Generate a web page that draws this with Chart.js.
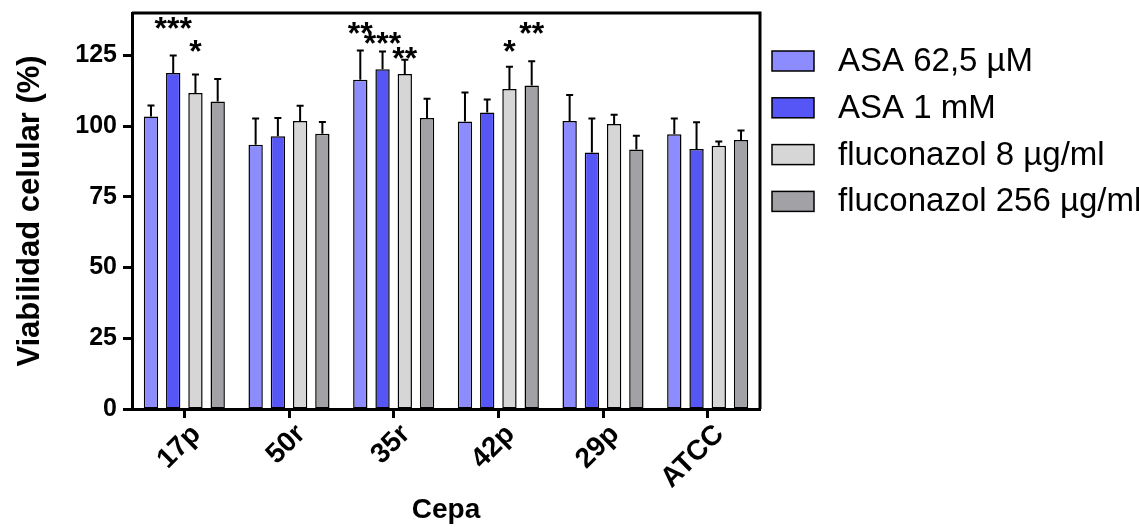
<!DOCTYPE html>
<html>
<head>
<meta charset="utf-8">
<script src="https://cdn.jsdelivr.net/npm/chart.js@4"></script>
<style>
  html, body { margin: 0; padding: 0; background: #fff; }
  #wrap { width: 1139px; height: 527px; }
</style>
</head>
<body>
<div id="wrap"><canvas id="viabChart"></canvas></div>
<script>
// categories (strains)
const cepas = ['17p', '50r', '35r', '42p', '29p', 'ATCC'];

// mean viability (%) per treatment
const asa625 = [103.4, 93.4, 116.4, 101.6, 101.8, 97.1];
const asa1mM = [118.8, 96.4, 120.1, 104.8, 90.7, 91.9];
const fluc8 = [111.7, 101.8, 118.4, 113.1, 100.8, 93.1];
const fluc256 = [108.7, 97.3, 102.9, 114.4, 91.7, 95.1];

// error bars (upper only)
const errAsa625 = [3.9, 9.3, 10.3, 10.3, 9.2, 5.6];
const errAsa1mM = [6.2, 6.5, 6.3, 4.6, 12.0, 9.5];
const errFluc8 = [6.6, 5.4, 5.1, 7.9, 3.2, 1.5];
const errFluc256 = [8.0, 4.2, 6.8, 8.5, 4.9, 3.4];

// significance marks and the level (in %) they sit at
const sigAsa625 = ['', '', '**', '', '', ''];
const sigAsa1mM = ['***', '', '***', '', '', ''];
const sigFluc8 = ['*', '', '**', '*', '', ''];
const sigFluc256 = ['', '', '', '**', '', ''];
const sigLevelAsa625 = [0, 0, 134.5, 0, 0, 0];
const sigLevelAsa1mM = [136.1, 0, 130.9, 0, 0, 0];
const sigLevelFluc8 = [127.9, 0, 125.6, 127.9, 0, 0];
const sigLevelFluc256 = [0, 0, 0, 134.5, 0, 0];

const yTicks = [0, 25, 50, 75, 100, 125];

const series = [
    { label: 'ASA 62,5 \u00b5M', data: asa625, err: errAsa625, sig: sigAsa625, sigLevel: sigLevelAsa625, color: '#8c8cff' },
    { label: 'ASA 1 mM', data: asa1mM, err: errAsa1mM, sig: sigAsa1mM, sigLevel: sigLevelAsa1mM, color: '#5656f6' },
    { label: 'fluconazol 8 \u00b5g/ml', data: fluc8, err: errFluc8, sig: sigFluc8, sigLevel: sigLevelFluc8, color: '#d6d6d6' },
    { label: 'fluconazol 256 \u00b5g/ml', data: fluc256, err: errFluc256, sig: sigFluc256, sigLevel: sigLevelFluc256, color: '#a2a2a6' }
];

const FONT = '"Liberation Sans", Arial, sans-serif';

// error bars, stars, frame and legend
const extras = {
    id: 'extras',
    afterDatasetsDraw(chart) {
        const ctx = chart.ctx;
        const yScale = chart.scales.y;
        ctx.save();
        chart.data.datasets.forEach((ds, i) => {
            const meta = chart.getDatasetMeta(i);
            meta.data.forEach((bar, j) => {
                const top = yScale.getPixelForValue(ds.data[j] + ds.err[j]);
                ctx.strokeStyle = '#000';
                ctx.lineWidth = 2;
                ctx.beginPath();
                ctx.moveTo(bar.x, bar.y);
                ctx.lineTo(bar.x, top);
                ctx.moveTo(bar.x - 3.5, top);
                ctx.lineTo(bar.x + 3.5, top);
                ctx.stroke();

                if (ds.sig[j]) {
                    const yc = yScale.getPixelForValue(ds.sigLevel[j]);
                    ctx.fillStyle = '#000';
                    ctx.font = 'bold 32px ' + FONT;
                    ctx.textAlign = 'center';
                    ctx.textBaseline = 'alphabetic';
                    ctx.fillText(ds.sig[j], bar.x, yc + 15);
                }
            });
        });

        // frame around plot
        const a = chart.chartArea;
        ctx.strokeStyle = '#000';
        ctx.lineWidth = 3;
        ctx.beginPath();
        ctx.moveTo(a.left, a.top);
        ctx.lineTo(a.right, a.top);
        ctx.lineTo(a.right, a.bottom);
        ctx.stroke();

        // legend
        ctx.font = '33px ' + FONT;
        ctx.textAlign = 'left';
        ctx.textBaseline = 'middle';
        chart.data.datasets.forEach((ds, i) => {
            const cy = 61 + i * 46.8;
            ctx.fillStyle = ds.backgroundColor;
            ctx.fillRect(772, cy - 10, 42, 20);
            ctx.lineWidth = 1.5;
            ctx.strokeStyle = '#000';
            ctx.strokeRect(772, cy - 10, 42, 20);
            ctx.fillStyle = '#000';
            ctx.fillText(ds.label, 838, cy + 1);
        });
        ctx.restore();
    }
};

const ctx = document.getElementById('viabChart').getContext('2d');
new Chart(ctx, {
    type: 'bar',
    data: {
        labels: cepas,
        datasets: series.map(s => ({
            label: s.label,
            data: s.data,
            err: s.err,
            sig: s.sig,
            sigLevel: s.sigLevel,
            backgroundColor: s.color,
            borderColor: '#000',
            borderWidth: 1.5,
            borderSkipped: false,
            categoryPercentage: 0.85,
            barPercentage: 0.645
        }))
    },
    options: {
        responsive: true,
        maintainAspectRatio: false,
        animation: false,
        layout: { padding: { top: 0, right: 379, left: 0, bottom: 0 } },
        plugins: {
            legend: { display: false },
            tooltip: { enabled: false }
        },
        scales: {
            x: {
                grid: { drawOnChartArea: false, offset: false, tickLength: 9, tickWidth: 3, tickColor: '#000' },
                border: { color: '#000', width: 3 },
                ticks: {
                    color: '#000',
                    font: { family: FONT, size: 28, weight: 'bold' },
                    minRotation: 45,
                    maxRotation: 45,
                    labelOffset: 12,
                    padding: 0
                },
                title: {
                    display: true,
                    text: 'Cepa',
                    color: '#000',
                    font: { family: FONT, size: 28, weight: 'bold' },
                    padding: { top: 0, bottom: 0 }
                },
                afterFit(scale) { scale.height = 118; }
            },
            y: {
                min: 0,
                max: 140,
                grid: { drawOnChartArea: false, tickLength: 9, tickWidth: 3, tickColor: '#000' },
                border: { color: '#000', width: 3 },
                ticks: {
                    color: '#000',
                    font: { family: FONT, size: 25, weight: 'bold' },
                    padding: 6
                },
                afterBuildTicks(scale) { scale.ticks = yTicks.map(v => ({ value: v })); },
                title: {
                    display: true,
                    text: 'Viabilidad celular (%)',
                    color: '#000',
                    font: { family: FONT, size: 31, weight: 'bold' },
                    padding: { top: 12, bottom: 0 }
                },
                afterFit(scale) {
                    scale.width = 132;
                    scale.paddingTop = 13;
                    scale.paddingBottom = 0;
                }
            }
        }
    },
    plugins: [extras]
});
</script>
</body>
</html>
